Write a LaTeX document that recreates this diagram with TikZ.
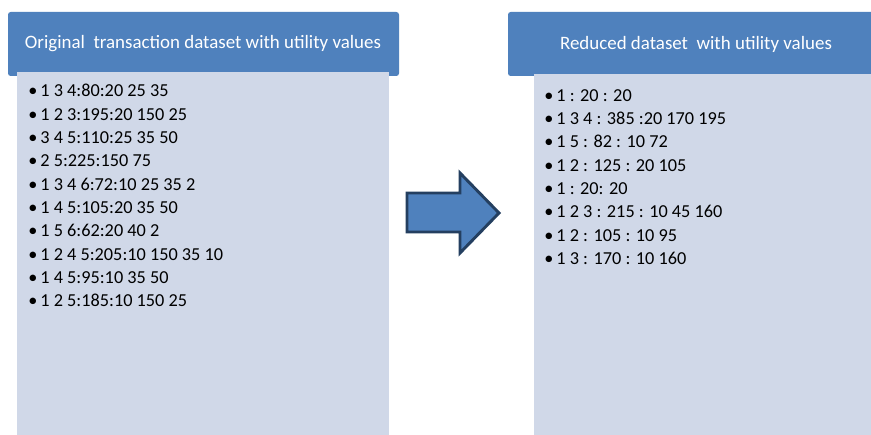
\documentclass[tikz,border=0pt]{standalone}
\usepackage{fontspec}
\setmainfont{Carlito}
\definecolor{hdrblue}{HTML}{4F81BD}
\definecolor{bodyblue}{HTML}{D0D8E8}
\definecolor{arrowedge}{HTML}{243F60}
\begin{document}
\begin{tikzpicture}[x=0.75pt,y=-0.75pt,
  hdr/.style={fill=hdrblue,draw=none,rounded corners=2pt},
  bodybox/.style={fill=bodyblue,draw=none},
  hdrtext/.style={text=white,font=\fontsize{14.2}{17}\selectfont,inner sep=0pt},
  listtext/.style={anchor=north west,align=left,inner sep=0pt,
    font=\fontsize{13.7}{17.5}\selectfont}]
\useasboundingbox (0,0) rectangle (871,435);
\fill[white] (0,0) rectangle (871,435);
% left
\draw[hdr] (8,12) rectangle (399,76);
\draw[bodybox] (17,72) rectangle (389,435);
\node[hdrtext] (lt) at (203,44) {Original\ \ transaction dataset with utility values};
\node[listtext] (ll) at (28,84) {%
•\,1 3 4:80:20 25 35\\
•\,1 2 3:195:20 150 25\\
•\,3 4 5:110:25 35 50\\
•\,2 5:225:150 75\\
•\,1 3 4 6:72:10 25 35 2\\
•\,1 4 5:105:20 35 50\\
•\,1 5 6:62:20 40 2\\
•\,1 2 4 5:205:10 150 35 10\\
•\,1 4 5:95:10 35 50\\
•\,1 2 5:185:10 150 25};
% right
\draw[hdr] (508,12) rectangle (880,76);
\draw[bodybox] (534,74) rectangle (871,435);
\node[hdrtext] (rt) at (696,44) {Reduced dataset\ \ with utility values};
\node[listtext] (rl) at (544,89) {%
•\,1 : 20 : 20\\
•\,1 3 4 : 385 :20 170 195\\
•\,1 5 : 82 : 10 72\\
•\,1 2 : 125 : 20 105\\
•\,1 : 20: 20\\
•\,1 2 3 : 215 : 10 45 160\\
•\,1 2 : 105 : 10 95\\
•\,1 3 : 170 : 10 160};
% arrow
\draw[fill=hdrblue,draw=arrowedge,line width=2.2pt,line join=miter]
  (407,193) -- (460,193) -- (460,173) -- (499,213) -- (460,253) -- (460,232) -- (407,232) -- cycle;
\end{tikzpicture}
\end{document}
